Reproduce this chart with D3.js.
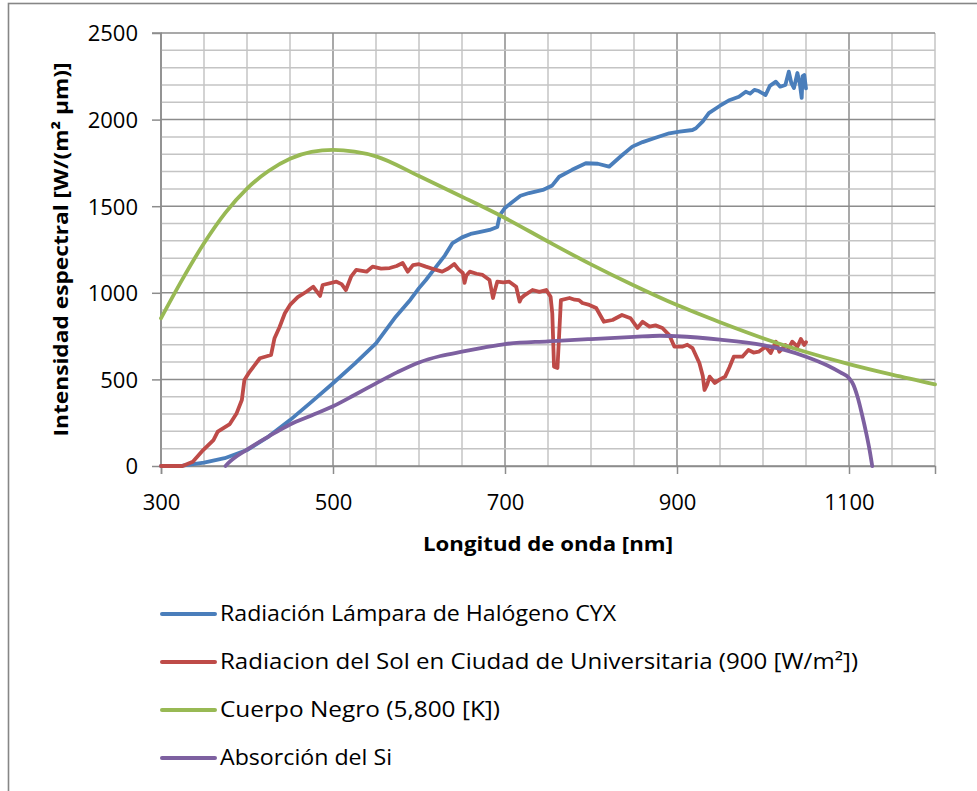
<!DOCTYPE html>
<html><head><meta charset="utf-8">
<script src="https://cdn.jsdelivr.net/npm/d3@7"></script>
<style>
html,body{margin:0;padding:0;background:#fff;}
svg{display:block;}
text{font-family:"Open Sans","Lato","Liberation Sans",sans-serif;fill:#000;}
</style></head>
<body>
<script>
// ---- Data ----
const xTicks = [300, 500, 700, 900, 1100];
const yTicks = [0, 500, 1000, 1500, 2000, 2500];

const seriesNames = [
  "Radiación Lámpara de Halógeno CYX",
  "Radiacion del Sol en Ciudad de Universitaria (900 [W/m²])",
  "Cuerpo Negro (5,800 [K])",
  "Absorción del Si"
];
const seriesColors = ["#4A7EBB", "#BE4B48", "#98B954", "#7D60A0"];

// Halogen lamp
const halogenNm  = [300,325,350,374,400,425,450,475,500,525,550,573,590,600,608,620,630,639,650,660,670,682,691,694,700,709,718,728,744,755,763,778,794,808,821,835,848,860,875,891,903,918,922,930,937,950,960,972,980,985,990,995,1003,1008,1015,1020,1026,1030,1033,1036,1040,1043,1045,1046,1048,1050];
const halogenVal = [0,2,20,45,92,170,265,370,478,590,708,862,960,1027,1074,1151,1215,1287,1320,1340,1350,1363,1380,1449,1490,1526,1560,1576,1594,1620,1670,1710,1748,1745,1728,1790,1844,1870,1895,1921,1930,1940,1950,1990,2037,2080,2110,2132,2161,2150,2172,2165,2142,2195,2219,2190,2200,2277,2210,2182,2269,2200,2125,2250,2258,2180];

// Solar radiation
const solarNm  = [300,325,337,349,361,366,380,388,394,397,403,415,428,432,438,444,450,459,469,477,485,488,504,510,515,521,527,539,546,556,566,574,581,587,593,600,608,620,627,634,641,646,651,653,655,659,667,674,682,686,688,691,698,705,713,717,719,723,732,740,748,753,755,757,761,763,765,775,781,786,790,798,806,815,825,836,846,854,860,868,875,883,891,897,906,912,918,926,930,932,935,938,944,950,956,961,966,976,983,989,995,1003,1009,1015,1019,1026,1030,1034,1040,1044,1048,1050];
const solarVal = [0,0,25,92,150,198,242,305,381,496,544,622,641,738,804,882,930,975,1006,1035,982,1045,1064,1050,1016,1093,1132,1122,1151,1140,1143,1155,1172,1122,1160,1165,1151,1132,1122,1140,1166,1135,1114,1057,1100,1122,1110,1103,1074,970,1010,1064,1060,1064,1035,949,970,987,1016,1005,1016,977,880,573,566,760,958,970,960,958,941,930,912,833,843,872,853,797,833,805,812,797,756,689,689,700,681,595,520,439,470,516,479,500,516,570,631,631,670,655,660,689,652,718,660,699,680,718,689,733,699,715];

// Black body 5800 K
const bodyNm  = [300,325,350,375,400,425,450,475,500,525,550,600,650,700,750,800,850,900,950,1000,1050,1100,1150,1200];
const bodyVal = [853,1079,1286,1463,1602,1703,1774,1813,1825,1815,1788,1674,1555,1432,1296,1164,1042,929,830,738,658,588,527,471];

// Si absorption
const siNm  = [375,380,400,425,450,475,500,525,550,575,600,625,650,675,700,750,800,850,880,900,950,1000,1025,1050,1075,1090,1100,1105,1110,1115,1120,1124,1127];
const siVal = [0,25,95,170,240,292,345,410,477,542,598,635,660,683,704,720,733,745,752,749,730,698,670,631,580,540,508,470,398,300,190,90,0];

// ---- Layout ----
const W = 977, H = 791;
const svg = d3.select("body").append("svg").attr("width", W).attr("height", H);

// outer frame
svg.append("rect").attr("x", 8.5).attr("y", 3.5).attr("width", 990).attr("height", 820)
  .attr("fill", "#fff").attr("stroke", "#868686").attr("stroke-width", 1.6);

const L = 161, R = 935, T = 33, B = 466;
const x = d3.scaleLinear().domain([300, 1200]).range([L, R]);
const y = d3.scaleLinear().domain([0, 2500]).range([B, T]);

// grid
const g = svg.append("g");
const minorX = d3.range(300, 1201, 50);
const minorY = d3.range(0, 2501, 100);
g.selectAll(".vx").data(minorX).join("line")
  .attr("x1", d => x(d)).attr("x2", d => x(d)).attr("y1", T).attr("y2", B)
  .attr("stroke", d => (d - 300) % 200 === 0 ? "#8c8c8c" : "#c4c4c4")
  .attr("stroke-width", 1.5);
g.selectAll(".hy").data(minorY).join("line")
  .attr("x1", L).attr("x2", R).attr("y1", d => y(d)).attr("y2", d => y(d))
  .attr("stroke", d => d % 500 === 0 ? "#8c8c8c" : "#c4c4c4")
  .attr("stroke-width", 1.5);

// axes
const yAxis = d3.axisLeft(y).tickValues(yTicks).tickSize(9).tickPadding(14).tickFormat(d3.format("d"));
const xAxis = d3.axisBottom(x).tickValues(xTicks).tickSize(8).tickPadding(20).tickFormat(d3.format("d"));
const ya = svg.append("g").attr("transform", `translate(${L},0)`).call(yAxis);
const xa = svg.append("g").attr("transform", `translate(0,${B})`).call(xAxis);
[ya, xa].forEach(a => {
  a.select(".domain").attr("stroke", "#8c8c8c").attr("stroke-width", 1.5);
  a.selectAll(".tick line").attr("stroke", "#8c8c8c").attr("stroke-width", 1.5);
  a.selectAll(".tick text").style("font-size", "22px").style("font-family", "'Open Sans',sans-serif").attr("fill", "#000");
});
ya.select(".domain").attr("d", `M-9,${T}H0V${B}`);
ya.selectAll(".tick text").attr("dy", "0.36em");

// axis titles
svg.append("text").attr("x", 548).attr("y", 551).attr("text-anchor", "middle")
  .style("font-size", "20px").style("font-weight", "bold")
  .attr("textLength", 250).attr("lengthAdjust", "spacingAndGlyphs")
  .text("Longitud de onda [nm]");
svg.append("text").attr("transform", `translate(68,${(T + B) / 2}) rotate(-90)`)
  .attr("text-anchor", "middle").style("font-size", "20px").style("font-weight", "bold")
  .attr("textLength", 374).attr("lengthAdjust", "spacingAndGlyphs")
  .text("Intensidad espectral [W/(m² µm)]");

// series
const series = [
  {nm: halogenNm, v: halogenVal, curve: d3.curveLinear},
  {nm: solarNm, v: solarVal, curve: d3.curveLinear},
  {nm: bodyNm, v: bodyVal, curve: d3.curveMonotoneX},
  {nm: siNm, v: siVal, curve: d3.curveMonotoneX}
];
const plot = svg.append("g");
series.forEach((s, i) => {
  const pts = s.nm.map((n, k) => [n, s.v[k]]);
  plot.append("path").datum(pts)
    .attr("fill", "none").attr("stroke", seriesColors[i]).attr("stroke-width", 3.8)
    .attr("stroke-linejoin", "round").attr("stroke-linecap", "round")
    .attr("d", d3.line().x(d => x(d[0])).y(d => y(d[1])).curve(s.curve));
});

// legend
const legY = [614, 662, 710, 758];
const legW = [396, 638, 280, 172];
const leg = svg.append("g");
seriesNames.forEach((name, i) => {
  leg.append("line").attr("x1", 162).attr("x2", 215).attr("y1", legY[i]).attr("y2", legY[i])
    .attr("stroke", seriesColors[i]).attr("stroke-width", 4).attr("stroke-linecap", "round");
  leg.append("text").attr("x", 220).attr("y", legY[i]).attr("dy", "0.35em")
    .style("font-size", "21px")
    .attr("textLength", legW[i]).attr("lengthAdjust", "spacingAndGlyphs")
    .text(name);
});
</script>
</body></html>
